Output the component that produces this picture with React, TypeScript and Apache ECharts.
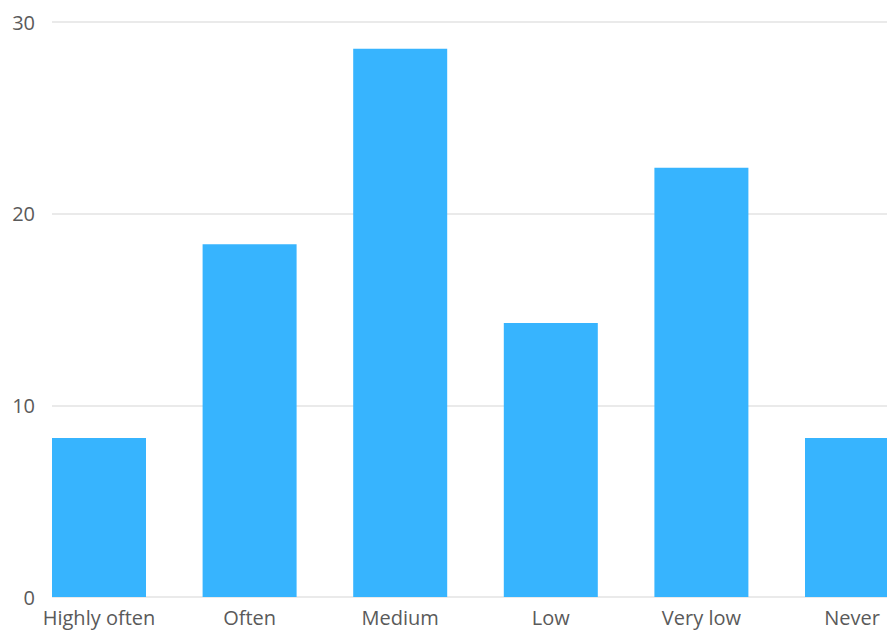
import React, { useEffect, useRef } from "react";
import * as echarts from "echarts";

const categories = ["Highly often", "Often", "Medium", "Low", "Very low", "Never"];
const values = [8.3, 18.4, 28.6, 14.3, 22.4, 8.3];
const yTicks = { min: 0, max: 30, interval: 10 };

export default function App() {
  const ref = useRef<HTMLDivElement>(null);
  useEffect(() => {
    if (!ref.current) return;
    const chart = echarts.init(ref.current, null, { renderer: "svg" });
    const font = "'Open Sans', 'Noto Sans', sans-serif";
    chart.setOption({
      animation: false,
      backgroundColor: "#ffffff",
      grid: [
        { left: 52, right: 41, top: 22, bottom: 33 },
        { left: 23.7, right: 0.7, top: 22, bottom: 33 },
      ],
      xAxis: [
        { gridIndex: 0, type: "value", show: false, min: 0, max: 1 },
        {
          gridIndex: 1,
          type: "category",
          data: categories,
          axisLine: { show: false },
          axisTick: { show: false },
          axisLabel: { color: "#5a5a5a", fontSize: 20, fontFamily: font, margin: 10, interval: 0 },
        },
      ],
      yAxis: [
        {
          gridIndex: 0,
          type: "value",
          min: yTicks.min,
          max: yTicks.max,
          interval: yTicks.interval,
          axisLine: { show: false },
          axisTick: { show: false },
          axisLabel: { color: "#5a5a5a", fontSize: 20, fontFamily: font, margin: 17 },
          splitLine: { show: true, lineStyle: { color: "#e3e3e3", width: 1.5 } },
        },
        {
          gridIndex: 1,
          type: "value",
          min: yTicks.min,
          max: yTicks.max,
          show: false,
          splitLine: { show: false },
        },
      ],
      series: [
        {
          type: "bar",
          xAxisIndex: 1,
          yAxisIndex: 1,
          data: values,
          barWidth: 94,
          itemStyle: { color: "#37b4fe" },
        },
      ],
    });
    return () => chart.dispose();
  }, []);
  return (
    <div style={{ position: "fixed", left: 0, top: 0, width: 887, height: 630, overflow: "hidden" }}>
      <div ref={ref} style={{ width: 928, height: 630 }} />
    </div>
  );
}
